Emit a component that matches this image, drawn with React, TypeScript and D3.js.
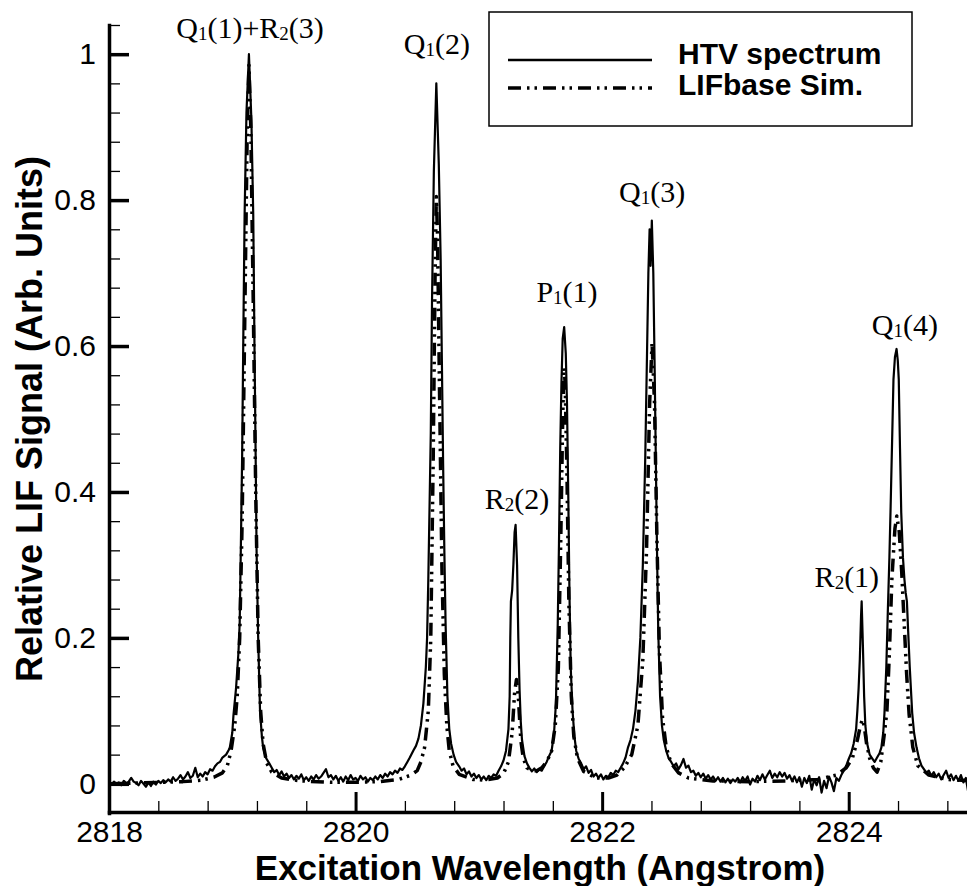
import React, { useEffect, useRef } from "react";
import * as d3 from "d3";

// wavelength (Angstrom), relative signal
const htvSpectrum: [number, number][] = [
  [2818.0, 0.002], [2818.02, -0.001], [2818.04, 0.003], [2818.06, 0.0], [2818.08, 0.002],
  [2818.1, -0.002], [2818.12, 0.004], [2818.14, 0.001], [2818.16, 0.003], [2818.18, 0.008],
  [2818.2, 0.003], [2818.22, 0.001], [2818.24, -0.002], [2818.26, 0.004], [2818.28, 0.0],
  [2818.3, -0.004], [2818.32, 0.002], [2818.34, -0.003], [2818.36, 0.003], [2818.38, -0.001],
  [2818.4, 0.004], [2818.42, 0.001], [2818.44, 0.005], [2818.46, 0.002], [2818.48, 0.006],
  [2818.5, 0.003], [2818.52, 0.009], [2818.54, 0.004], [2818.56, 0.007], [2818.58, 0.012],
  [2818.6, 0.006], [2818.62, 0.01], [2818.64, 0.016], [2818.66, 0.008], [2818.68, 0.011],
  [2818.7, 0.022], [2818.72, 0.009], [2818.74, 0.014], [2818.76, 0.01], [2818.78, 0.016],
  [2818.8, 0.013], [2818.82, 0.02], [2818.84, 0.018], [2818.86, 0.024], [2818.88, 0.028],
  [2818.9, 0.03], [2818.92, 0.036], [2818.95, 0.04], [2818.97, 0.046], [2818.98, 0.05],
  [2819.0, 0.07], [2819.01, 0.095], [2819.03, 0.13], [2819.05, 0.18], [2819.06, 0.22],
  [2819.07, 0.33], [2819.08, 0.45], [2819.09, 0.62], [2819.1, 0.78], [2819.115, 0.92],
  [2819.135, 1.0], [2819.155, 0.91], [2819.17, 0.78], [2819.18, 0.6], [2819.19, 0.44],
  [2819.197, 0.32], [2819.21, 0.2], [2819.225, 0.1], [2819.24, 0.065], [2819.25, 0.05],
  [2819.275, 0.035], [2819.3, 0.028], [2819.32, 0.022], [2819.34, 0.016], [2819.36, 0.019],
  [2819.38, 0.012], [2819.4, 0.017], [2819.42, 0.01], [2819.44, 0.014], [2819.46, 0.008],
  [2819.48, 0.012], [2819.5, 0.006], [2819.52, 0.011], [2819.54, 0.007], [2819.56, 0.013],
  [2819.58, 0.005], [2819.6, 0.009], [2819.62, 0.004], [2819.64, 0.01], [2819.66, 0.006],
  [2819.68, 0.012], [2819.7, 0.007], [2819.72, 0.01], [2819.74, 0.015], [2819.76, 0.02],
  [2819.78, 0.009], [2819.8, 0.012], [2819.82, 0.006], [2819.84, 0.011], [2819.86, 0.004],
  [2819.88, 0.009], [2819.9, 0.003], [2819.92, 0.01], [2819.94, 0.005], [2819.96, 0.012],
  [2819.98, 0.006], [2820.0, 0.008], [2820.02, 0.004], [2820.04, 0.011], [2820.06, 0.006],
  [2820.08, 0.009], [2820.1, 0.003], [2820.12, 0.008], [2820.14, 0.005], [2820.16, 0.01],
  [2820.18, 0.006], [2820.2, 0.012], [2820.22, 0.008], [2820.24, 0.014], [2820.26, 0.01],
  [2820.28, 0.016], [2820.3, 0.013], [2820.32, 0.018], [2820.34, 0.015], [2820.36, 0.021],
  [2820.38, 0.019], [2820.4, 0.024], [2820.42, 0.03], [2820.44, 0.036], [2820.47, 0.046],
  [2820.49, 0.052], [2820.51, 0.062], [2820.53, 0.08], [2820.55, 0.11], [2820.57, 0.16],
  [2820.58, 0.2], [2820.59, 0.28], [2820.6, 0.38], [2820.61, 0.48], [2820.62, 0.66],
  [2820.635, 0.84], [2820.655, 0.96], [2820.675, 0.85], [2820.69, 0.72], [2820.7, 0.58],
  [2820.71, 0.44], [2820.72, 0.32], [2820.73, 0.22], [2820.745, 0.12], [2820.76, 0.075],
  [2820.775, 0.055], [2820.795, 0.04], [2820.815, 0.03], [2820.84, 0.024], [2820.86, 0.018],
  [2820.88, 0.021], [2820.9, 0.013], [2820.92, 0.017], [2820.94, 0.01], [2820.96, 0.014],
  [2820.98, 0.008], [2821.0, 0.012], [2821.02, 0.006], [2821.04, 0.01], [2821.06, 0.005],
  [2821.08, 0.011], [2821.1, 0.008], [2821.12, 0.013], [2821.14, 0.011], [2821.16, 0.018],
  [2821.18, 0.024], [2821.2, 0.032], [2821.22, 0.045], [2821.24, 0.075], [2821.25, 0.12],
  [2821.255, 0.2], [2821.26, 0.25], [2821.27, 0.265], [2821.28, 0.3], [2821.29, 0.345],
  [2821.298, 0.355], [2821.31, 0.3], [2821.32, 0.2], [2821.33, 0.13], [2821.34, 0.085],
  [2821.35, 0.06], [2821.37, 0.038], [2821.39, 0.028], [2821.41, 0.022], [2821.43, 0.017],
  [2821.45, 0.021], [2821.47, 0.016], [2821.49, 0.02], [2821.51, 0.018], [2821.53, 0.024],
  [2821.55, 0.03], [2821.57, 0.038], [2821.59, 0.045], [2821.61, 0.07], [2821.625, 0.11],
  [2821.64, 0.22], [2821.65, 0.33], [2821.66, 0.46], [2821.67, 0.55], [2821.68, 0.61],
  [2821.692, 0.626], [2821.705, 0.59], [2821.715, 0.52], [2821.725, 0.4], [2821.735, 0.26],
  [2821.745, 0.16], [2821.76, 0.1], [2821.775, 0.065], [2821.79, 0.045], [2821.81, 0.034],
  [2821.83, 0.028], [2821.85, 0.02], [2821.87, 0.024], [2821.89, 0.015], [2821.91, 0.019],
  [2821.93, 0.01], [2821.95, 0.014], [2821.97, 0.008], [2821.99, 0.013], [2822.01, 0.006],
  [2822.03, 0.011], [2822.05, 0.009], [2822.07, 0.015], [2822.09, 0.012], [2822.11, 0.018],
  [2822.13, 0.016], [2822.15, 0.022], [2822.17, 0.028], [2822.19, 0.036], [2822.21, 0.05],
  [2822.23, 0.06], [2822.25, 0.075], [2822.27, 0.1], [2822.29, 0.14], [2822.31, 0.2],
  [2822.33, 0.3], [2822.35, 0.45], [2822.365, 0.6], [2822.375, 0.7], [2822.385, 0.76],
  [2822.393, 0.71], [2822.403, 0.772], [2822.415, 0.7], [2822.425, 0.58], [2822.435, 0.45],
  [2822.445, 0.32], [2822.455, 0.21], [2822.47, 0.12], [2822.485, 0.08], [2822.5, 0.06],
  [2822.52, 0.045], [2822.54, 0.035], [2822.56, 0.03], [2822.58, 0.024], [2822.6, 0.028],
  [2822.62, 0.02], [2822.64, 0.026], [2822.66, 0.034], [2822.68, 0.022], [2822.7, 0.025],
  [2822.72, 0.016], [2822.74, 0.018], [2822.76, 0.011], [2822.78, 0.015], [2822.8, 0.009],
  [2822.82, 0.014], [2822.84, 0.007], [2822.86, 0.012], [2822.88, 0.006], [2822.9, 0.01],
  [2822.92, 0.004], [2822.94, 0.009], [2822.96, 0.003], [2822.98, 0.008], [2823.0, 0.002],
  [2823.02, 0.007], [2823.04, 0.001], [2823.06, 0.006], [2823.08, 0.003], [2823.1, 0.008],
  [2823.12, 0.002], [2823.14, 0.009], [2823.16, 0.004], [2823.18, 0.01], [2823.2, -0.001],
  [2823.22, 0.007], [2823.24, 0.003], [2823.26, 0.011], [2823.28, 0.005], [2823.3, 0.013],
  [2823.32, 0.006], [2823.34, 0.012], [2823.36, 0.018], [2823.38, 0.008], [2823.4, 0.014],
  [2823.42, 0.009], [2823.44, 0.016], [2823.46, 0.01], [2823.48, 0.015], [2823.5, 0.007],
  [2823.52, 0.012], [2823.54, 0.004], [2823.56, 0.01], [2823.58, 0.002], [2823.6, 0.009],
  [2823.62, -0.004], [2823.64, 0.008], [2823.66, 0.001], [2823.68, 0.011], [2823.7, -0.008],
  [2823.72, 0.006], [2823.74, -0.002], [2823.76, 0.009], [2823.78, -0.012], [2823.8, 0.004],
  [2823.82, -0.006], [2823.84, 0.01], [2823.86, 0.002], [2823.88, -0.01], [2823.9, 0.008],
  [2823.92, 0.004], [2823.94, 0.012], [2823.96, 0.018], [2823.98, 0.025], [2824.0, 0.034],
  [2824.02, 0.042], [2824.04, 0.055], [2824.06, 0.075], [2824.07, 0.1], [2824.08, 0.13],
  [2824.09, 0.17], [2824.1, 0.23], [2824.105, 0.25], [2824.115, 0.19], [2824.125, 0.12],
  [2824.135, 0.08], [2824.15, 0.055], [2824.17, 0.04], [2824.19, 0.035], [2824.21, 0.03],
  [2824.23, 0.036], [2824.25, 0.042], [2824.265, 0.05], [2824.28, 0.07], [2824.29, 0.097],
  [2824.305, 0.16], [2824.317, 0.235], [2824.33, 0.31], [2824.34, 0.38], [2824.352, 0.47],
  [2824.363, 0.554], [2824.375, 0.585], [2824.388, 0.596], [2824.398, 0.58], [2824.406, 0.554],
  [2824.416, 0.46], [2824.426, 0.372], [2824.44, 0.31], [2824.452, 0.28], [2824.462, 0.262],
  [2824.472, 0.25], [2824.482, 0.21], [2824.495, 0.16], [2824.515, 0.097], [2824.53, 0.07],
  [2824.55, 0.05], [2824.57, 0.035], [2824.59, 0.025], [2824.61, 0.02], [2824.63, 0.015],
  [2824.65, 0.018], [2824.67, 0.011], [2824.69, 0.016], [2824.71, 0.009], [2824.73, 0.014],
  [2824.75, 0.006], [2824.77, 0.012], [2824.79, 0.018], [2824.81, 0.008], [2824.83, 0.013],
  [2824.85, 0.005], [2824.87, 0.011], [2824.89, 0.004], [2824.91, 0.012], [2824.93, 0.002],
  [2824.95, 0.008], [2824.97, -0.012], [2824.99, 0.004],
];

const lifbaseSim: [number, number][] = [
  [2818.0, 0.0], [2818.2, 0.001], [2818.4, 0.002], [2818.6, 0.003], [2818.75, 0.005],
  [2818.85, 0.009], [2818.92, 0.015], [2818.96, 0.025], [2818.99, 0.045], [2819.02, 0.08],
  [2819.04, 0.12], [2819.06, 0.2], [2819.08, 0.36], [2819.1, 0.62], [2819.12, 0.88],
  [2819.135, 0.985], [2819.15, 0.9], [2819.17, 0.66], [2819.19, 0.4], [2819.21, 0.2],
  [2819.23, 0.1], [2819.25, 0.055], [2819.28, 0.028], [2819.32, 0.016], [2819.4, 0.008],
  [2819.55, 0.004], [2819.8, 0.002], [2820.0, 0.002], [2820.2, 0.003], [2820.35, 0.006],
  [2820.45, 0.012], [2820.5, 0.018], [2820.53, 0.03], [2820.56, 0.05], [2820.59, 0.1],
  [2820.61, 0.2], [2820.63, 0.45], [2820.645, 0.7], [2820.655, 0.805], [2820.665, 0.75],
  [2820.68, 0.55], [2820.7, 0.3], [2820.72, 0.15], [2820.74, 0.08], [2820.76, 0.045],
  [2820.79, 0.025], [2820.84, 0.013], [2820.95, 0.006], [2821.05, 0.005], [2821.15, 0.008],
  [2821.2, 0.014], [2821.24, 0.03], [2821.27, 0.07], [2821.29, 0.125], [2821.305, 0.143],
  [2821.32, 0.12], [2821.34, 0.06], [2821.36, 0.035], [2821.39, 0.022], [2821.43, 0.018],
  [2821.47, 0.018], [2821.51, 0.022], [2821.55, 0.03], [2821.59, 0.045], [2821.62, 0.08],
  [2821.645, 0.16], [2821.665, 0.34], [2821.68, 0.5], [2821.69, 0.57], [2821.7, 0.55],
  [2821.715, 0.42], [2821.73, 0.25], [2821.75, 0.12], [2821.77, 0.065], [2821.8, 0.035],
  [2821.85, 0.017], [2821.95, 0.008], [2822.05, 0.008], [2822.12, 0.012], [2822.18, 0.022],
  [2822.24, 0.04], [2822.29, 0.08], [2822.33, 0.17], [2822.36, 0.32], [2822.385, 0.52],
  [2822.405, 0.605], [2822.425, 0.52], [2822.445, 0.33], [2822.465, 0.18], [2822.49, 0.09],
  [2822.52, 0.05], [2822.56, 0.028], [2822.62, 0.015], [2822.7, 0.008], [2822.9, 0.004],
  [2823.2, 0.003], [2823.5, 0.004], [2823.75, 0.006], [2823.9, 0.012], [2823.98, 0.022],
  [2824.03, 0.035], [2824.07, 0.06], [2824.095, 0.08], [2824.11, 0.088], [2824.125, 0.08],
  [2824.145, 0.055], [2824.17, 0.035], [2824.2, 0.022], [2824.23, 0.016], [2824.26, 0.03],
  [2824.29, 0.07], [2824.31, 0.1], [2824.33, 0.18], [2824.35, 0.28], [2824.375, 0.35],
  [2824.39, 0.367], [2824.41, 0.345], [2824.43, 0.29], [2824.45, 0.22], [2824.47, 0.15],
  [2824.49, 0.095], [2824.52, 0.05], [2824.56, 0.025], [2824.65, 0.012], [2824.8, 0.006],
  [2825.0, 0.004],
];

const xTickLabels = [2818, 2820, 2822, 2824];
const yTickLabels = [0, 0.2, 0.4, 0.6, 0.8, 1];

// line labels: text pieces alternate normal / subscript, placed in data units
const peakLabels = [
  { parts: ["Q", "1", "(1)+R", "2", "(3)"], wl: 2819.144, sig: 1.022 },
  { parts: ["Q", "1", "(2)"], wl: 2820.66, sig: 1.0 },
  { parts: ["R", "2", "(2)"], wl: 2821.309, sig: 0.376 },
  { parts: ["P", "1", "(1)"], wl: 2821.715, sig: 0.66 },
  { parts: ["Q", "1", "(3)"], wl: 2822.405, sig: 0.797 },
  { parts: ["R", "2", "(1)"], wl: 2823.985, sig: 0.27 },
  { parts: ["Q", "1", "(4)"], wl: 2824.456, sig: 0.615 },
];

const seriesNames = ["HTV spectrum", "LIFbase Sim."];

const W = 967;
const H = 886;
const SANS = "'Liberation Sans', Arial, sans-serif";
const SERIF = "'Liberation Serif', 'Times New Roman', serif";
const SIM_DASH = "13 6 2.5 5 2.5 6";

const x = d3.scaleLinear().domain([2818, 2825]).range([109, 972]);
const y = d3.scaleLinear().domain([-0.04, 1.04]).range([813, 25]);

export default function App() {
  const axesRef = useRef<SVGGElement>(null);

  useEffect(() => {
    const g = d3.select(axesRef.current);
    g.selectAll("*").remove();

    const xMinor = d3.range(0, 18).filter(i => i % 5 !== 0).map(i => 2818 + i * 0.4);
    const yMinor = d3.range(0, 27).filter(i => i % 5 !== 0).map(i => i * 0.04);

    // x axis minor ticks
    g.append("g")
      .attr("transform", "translate(0,812)")
      .call(d3.axisBottom(x).tickValues(xMinor).tickSize(-11).tickSizeOuter(0).tickFormat(() => ""))
      .call(a => a.select(".domain").remove())
      .selectAll("line").attr("stroke-width", 1.3);

    // x axis major ticks, labels and line
    const gx = g.append("g")
      .attr("transform", "translate(0,812)")
      .call(d3.axisBottom(x).tickValues(xTickLabels).tickSize(-20).tickSizeOuter(0).tickPadding(9).tickFormat(d3.format("d")));
    gx.select(".domain").attr("stroke-width", 3.5);
    gx.selectAll("line").attr("stroke-width", 3);
    gx.selectAll("text").attr("font-size", 30).attr("font-family", SANS).attr("fill", "#000");

    // y axis minor ticks
    g.append("g")
      .attr("transform", "translate(109,0)")
      .call(d3.axisLeft(y).tickValues(yMinor).tickSize(-11).tickSizeOuter(0).tickFormat(() => ""))
      .call(a => a.select(".domain").remove())
      .selectAll("line").attr("stroke-width", 1.3);

    const gy = g.append("g")
      .attr("transform", "translate(109,0)")
      .call(d3.axisLeft(y).tickValues(yTickLabels).tickSize(-20).tickSizeOuter(0).tickPadding(13).tickFormat(d => String(d)));
    gy.select(".domain").attr("stroke-width", 3.5);
    gy.selectAll("line").attr("stroke-width", 3.5);
    gy.selectAll("text").attr("font-size", 30).attr("font-family", SANS).attr("fill", "#000");
    g.selectAll(".domain").attr("stroke-linecap", "square");
  }, []);

  const line = d3.line<[number, number]>().x(d => x(d[0])).y(d => y(d[1]));

  return (
    <svg width={W} height={H} style={{ position: "absolute", left: 0, top: 0, background: "#fff" }}>
      <defs>
        <clipPath id="plot">
          <rect x={109} y={0} width={W - 109} height={813} />
        </clipPath>
      </defs>
      <g clipPath="url(#plot)" fill="none" stroke="#000" strokeLinejoin="round">
        <path d={line(lifbaseSim) || ""} strokeWidth={3.5} strokeDasharray={SIM_DASH} />
        <path d={line(htvSpectrum) || ""} strokeWidth={2.2} />
      </g>
      <g ref={axesRef} />

      <g fontFamily={SERIF} fontSize={30} textAnchor="middle">
        {peakLabels.map((l, i) => (
          <text key={i} x={x(l.wl)} y={y(l.sig)}>
            {l.parts.map((p, j) =>
              j % 2 === 1 ? (
                <tspan key={j} fontSize={19} dy={2}>{p}</tspan>
              ) : (
                <tspan key={j} dy={j === 0 ? 0 : -2}>{p}</tspan>
              )
            )}
          </text>
        ))}
      </g>

      <text x={540} y={880} textAnchor="middle" fontFamily={SANS} fontWeight="bold" fontSize={35}>
        Excitation Wavelength (Angstrom)
      </text>
      <text transform="translate(42,419) rotate(-90)" textAnchor="middle" fontFamily={SANS} fontWeight="bold" fontSize={36}>
        Relative LIF Signal (Arb. Units)
      </text>

      <g>
        <rect x={489} y={12} width={423} height={114} fill="#fff" stroke="#000" strokeWidth={1.5} />
        <line x1={508} x2={652} y1={60} y2={60} stroke="#000" strokeWidth={2.7} />
        <line x1={508} x2={652} y1={88} y2={88} stroke="#000" strokeWidth={3.5} strokeDasharray={SIM_DASH} />
        {seriesNames.map((n, i) => (
          <text key={n} x={678} y={64 + i * 31} fontFamily={SANS} fontWeight="bold" fontSize={30}>
            {n}
          </text>
        ))}
      </g>
    </svg>
  );
}
